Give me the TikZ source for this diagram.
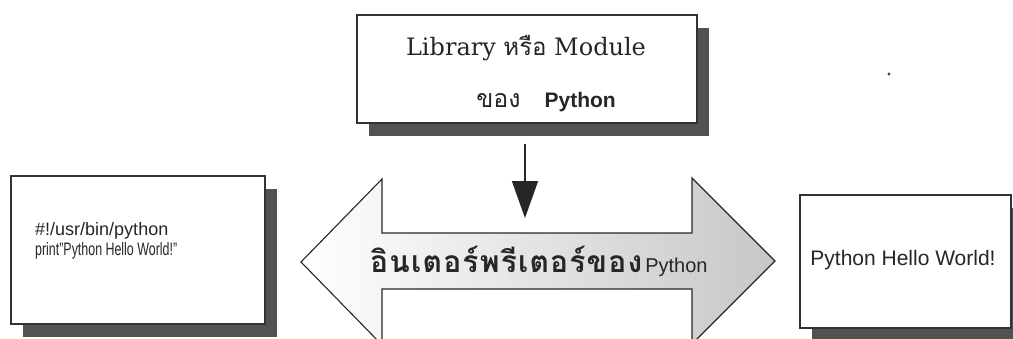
\documentclass[tikz,border=0pt]{standalone}
\usepackage{fontspec}
\usepackage{graphicx}
\setmainfont{Liberation Sans}
\newfontfamily\thaifont[Script=Thai]{Loma}
\newfontfamily\thaiwide[Script=Thai,LetterSpace=4]{Loma}
\newfontfamily\slabfont{DejaVu Serif}
\usetikzlibrary{shadows,arrows.meta}
\tikzset{
  boxstyle/.style={draw=black!80, line width=1.2pt, fill=white, inner sep=0pt,
    drop shadow={shadow xshift=12pt, shadow yshift=-13pt, fill=black!68, opacity=1}},
  txt/.style={inner sep=0pt, text=black!85},
}
\begin{document}
\begin{tikzpicture}[x=1pt,y=-1pt]
\useasboundingbox (0,0) rectangle (1013,338);
\clip (0,0) rectangle (1013,338);
% double arrow
\shade[left color=white, right color=black!22, draw=black!85, line width=1.1pt]
  (301,262) -- (382,179) -- (382,233) -- (692,233) -- (692,178) -- (775,261)
  -- (692,344) -- (692,289) -- (382,289) -- (382,345) -- cycle;
\node[txt, anchor=base west] (interp) at (370,272)
  {{\fontsize{30}{34}\selectfont\bfseries\thaiwide อินเตอร์พรีเตอร์ของ}\hspace{3pt}{\fontsize{20}{24}\selectfont Python}};
% boxes
\node[boxstyle, minimum width=340pt, minimum height=108pt] (lib) at (527,69) {};
\node[boxstyle, minimum width=254pt, minimum height=148pt] (src) at (138,250) {};
\node[boxstyle, minimum width=211pt, minimum height=133pt] (out) at (905.5,261.5) {};
% texts
\node[txt, anchor=base] (libt1) at (526,55)
  {\fontsize{24}{28}\selectfont\slabfont Library {\thaifont หรือ} Module};
\node[txt, anchor=base] (libt2) at (546,107)
  {{\fontsize{25}{28}\selectfont\thaifont ของ}\hspace{24pt}{\fontsize{21}{25}\selectfont\bfseries Python}};
\node[txt, anchor=base west] (src1) at (35,235)
  {\fontsize{18}{20}\selectfont \#!/usr/bin/python};
\node[txt, anchor=base west] (src2) at (35,255)
  {\scalebox{0.69}[1]{\fontsize{18}{20}\selectfont print"Python Hello World!"}};
\node[txt, anchor=base] (outt) at (903,265)
  {\fontsize{21}{25}\selectfont Python Hello World!};
% vertical arrow
\coordinate (tip) at (525,218);
\draw[draw=black!85, line width=1.5pt, -{Triangle[width=26pt,length=37pt]}]
  ([xshift=-2pt,yshift=-20pt]lib.south) -- (tip);
% speck
\fill[black!75] (889,74) circle (1.6pt);
\end{tikzpicture}
\end{document}
